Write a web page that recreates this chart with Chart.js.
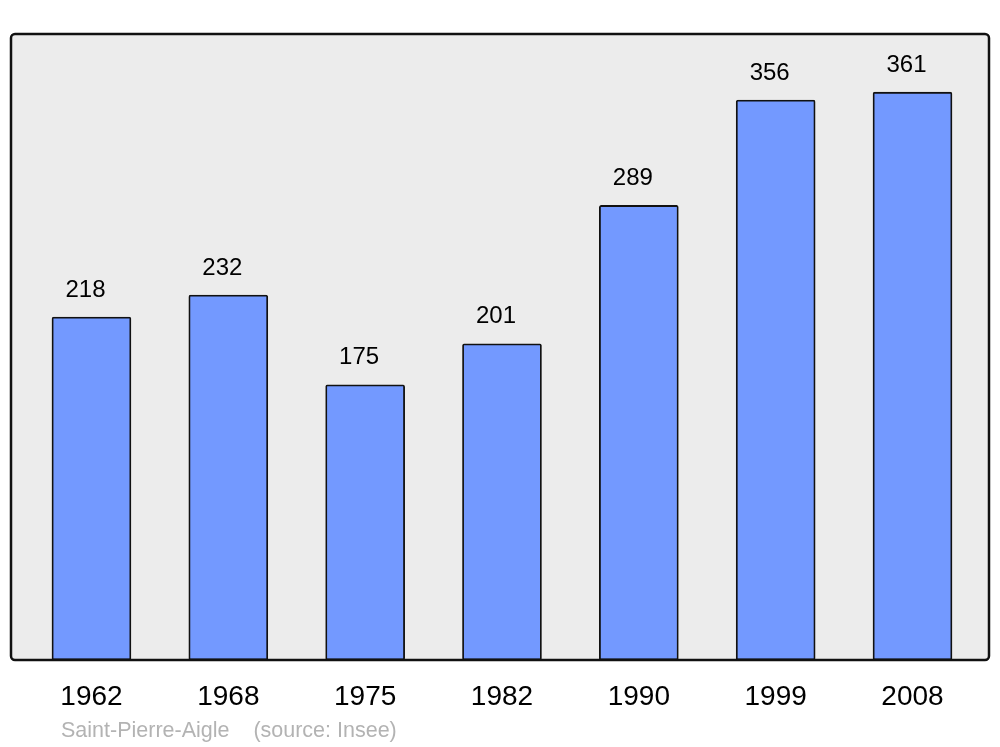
<!DOCTYPE html>
<html>
<head>
<meta charset="utf-8">
<script src="https://cdn.jsdelivr.net/npm/chart.js@4/dist/chart.umd.min.js"></script>
<style>
  body { margin: 0; background: #fff; }
  canvas { display: block; }
</style>
</head>
<body>
<canvas id="popChart" width="1000" height="747"></canvas>
<script>
const years = ['1962', '1968', '1975', '1982', '1990', '1999', '2008'];
const population = [218, 232, 175, 201, 289, 356, 361];
const footerText = 'Saint-Pierre-Aigle    (source: Insee)';

const FONT = '"Liberation Sans", Arial, sans-serif';

// grey plot background + black frame
const framePlugin = {
    id: 'frame',
    beforeDraw(chart) {
        const a = chart.chartArea, ctx = chart.ctx;
        ctx.save();
        ctx.fillStyle = '#ececec';
        ctx.beginPath();
        ctx.roundRect(a.left, a.top, a.right - a.left, a.bottom - a.top, 4);
        ctx.fill();
        ctx.restore();
    },
    afterDatasetsDraw(chart) {
        const a = chart.chartArea, ctx = chart.ctx;
        ctx.save();
        ctx.strokeStyle = '#111';
        ctx.lineWidth = 2.5;
        ctx.beginPath();
        ctx.roundRect(a.left, a.top, a.right - a.left, a.bottom - a.top, 4);
        ctx.stroke();

        // value labels above bars
        const meta = chart.getDatasetMeta(0);
        ctx.fillStyle = '#000';
        ctx.font = '24px ' + FONT;
        ctx.textAlign = 'center';
        ctx.textBaseline = 'middle';
        meta.data.forEach((bar, i) => {
            ctx.fillText(population[i], bar.x - 6, bar.y - 27);
        });

        // footer
        ctx.fillStyle = '#b3b3b3';
        ctx.font = '21.5px ' + FONT;
        ctx.textAlign = 'left';
        ctx.fillText(footerText, 61, 731);
        ctx.restore();
    }
};

new Chart(document.getElementById('popChart'), {
    type: 'bar',
    data: {
        datasets: [{
            data: population.map((v, i) => ({ x: i, y: v })),
            backgroundColor: '#7399ff',
            borderColor: '#111',
            borderWidth: 1.8,
            borderRadius: 2,
            borderSkipped: false,
            barThickness: 79
        }]
    },
    options: {
        responsive: false,
        animation: false,
        layout: { padding: { left: 11, right: 11, top: 34, bottom: 0 } },
        plugins: {
            legend: { display: false },
            tooltip: { enabled: false }
        },
        scales: {
            x: {
                type: 'linear',
                offset: false,
                min: -0.588,
                max: 6.559,
                grid: { display: false, drawTicks: false },
                border: { display: false },
                afterBuildTicks: s => { s.ticks = years.map((_, i) => ({ value: i })); },
                afterFit: s => { s.height = 87; },
                ticks: {
                    padding: 20,
                    color: '#000',
                    font: { family: FONT, size: 28 },
                    maxRotation: 0,
                    autoSkip: false,
                    callback: v => years[v]
                }
            },
            y: {
                display: false,
                min: 0,
                max: 398
            }
        }
    },
    plugins: [framePlugin]
});
</script>
</body>
</html>
